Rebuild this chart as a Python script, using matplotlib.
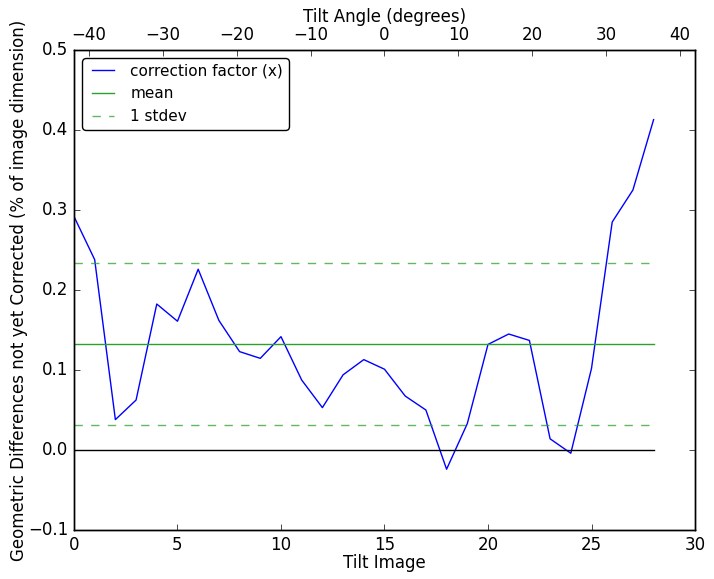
import matplotlib
matplotlib.use("Agg")
import matplotlib.pyplot as plt
from matplotlib.ticker import MultipleLocator

plt.style.use('classic')
plt.rcParams['font.family'] = ['DejaVu Sans']

tilt_image = list(range(29))
correction = [0.292, 0.238, 0.038, 0.0625, 0.1825, 0.161, 0.226, 0.162, 0.123,
              0.1146, 0.1417, 0.0875, 0.053, 0.094, 0.113, 0.101, 0.0675, 0.05,
              -0.024, 0.033, 0.132, 0.145, 0.137, 0.014, -0.004, 0.102, 0.285,
              0.325, 0.413]
mean_val = 0.1325
stdev_val = 0.101
angle_range = [-42, 42]

fig = plt.figure(figsize=(7.14, 5.79), dpi=100)
fig.patch.set_facecolor('white')
ax = fig.add_axes([0.1036, 0.0846, 0.8698, 0.829])

x0, x1 = tilt_image[0], tilt_image[-1]
ax.plot(tilt_image, correction, color='b', lw=1, label='correction factor (x)')
ax.plot([x0, x1], [mean_val, mean_val], color='#2ca02c', lw=1, label='mean')
ax.plot([x0, x1], [mean_val + stdev_val] * 2, color='#2ca02c', lw=1, ls='--',
        alpha=0.75, label='1 stdev')
ax.plot([x0, x1], [mean_val - stdev_val] * 2, color='#2ca02c', lw=1, ls='--',
        alpha=0.75)
ax.plot([x0, x1], [0, 0], color='k', lw=1)

ax.set_xlim(0, 30)
ax.set_ylim(-0.1, 0.5)
ax.set_xlabel('Tilt Image', labelpad=0)
ax.set_ylabel('Geometric Differences not yet Corrected (% of image dimension)',
              labelpad=0)
leg = ax.legend(loc='upper left', fontsize=11, fancybox=True)
leg.get_frame().set_boxstyle('round', pad=0, rounding_size=0.3)

ax2 = ax.twiny()
ax2.set_xlim(*angle_range)
ax2.xaxis.set_major_locator(MultipleLocator(10))
ax2.set_xlabel('Tilt Angle (degrees)', labelpad=3)

fig.savefig('out.png', dpi=100, facecolor='white')
